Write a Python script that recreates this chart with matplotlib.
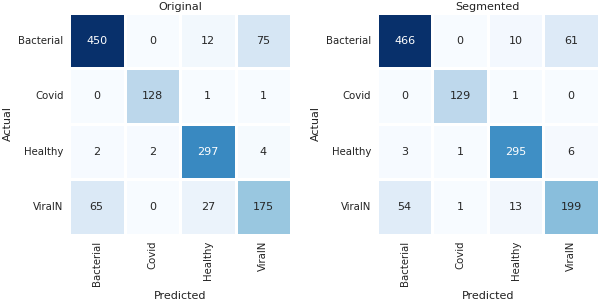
import numpy as np
import matplotlib
matplotlib.use('Agg')
import matplotlib.pyplot as plt
import seaborn as sns

classes = ['Bacterial', 'Covid', 'Healthy', 'ViralN']

cm_original = np.array([[450, 0, 12, 75],
                        [0, 128, 1, 1],
                        [2, 2, 297, 4],
                        [65, 0, 27, 175]])

cm_segmented = np.array([[466, 0, 10, 61],
                         [0, 129, 1, 0],
                         [3, 1, 295, 6],
                         [54, 1, 13, 199]])

titles = ['Original', 'Segmented']

fig = plt.figure(figsize=(6, 3), dpi=100)
ax1 = fig.add_axes([0.115, 0.217, 0.37, 0.74])
ax2 = fig.add_axes([0.628, 0.217, 0.37, 0.74])

for ax, cm, title in zip([ax1, ax2], [cm_original, cm_segmented], titles):
    sns.heatmap(cm, annot=True, fmt='d', cmap='Blues', cbar=False,
                linewidths=1.0, linecolor='white',
                xticklabels=classes, yticklabels=classes,
                annot_kws={'size': 8}, ax=ax)
    ax.set_title(title, fontsize=8, pad=2, color='#222222')
    ax.set_xlabel('Predicted', fontsize=8, color='#222222')
    ax.set_ylabel('Actual', fontsize=8, color='#222222')
    ax.tick_params(axis='both', labelsize=7.3, length=0, pad=4,
                   labelcolor='#222222')
    plt.setp(ax.get_xticklabels(), rotation=90)
    plt.setp(ax.get_yticklabels(), rotation=0)

fig.savefig('out.png', dpi=100)
